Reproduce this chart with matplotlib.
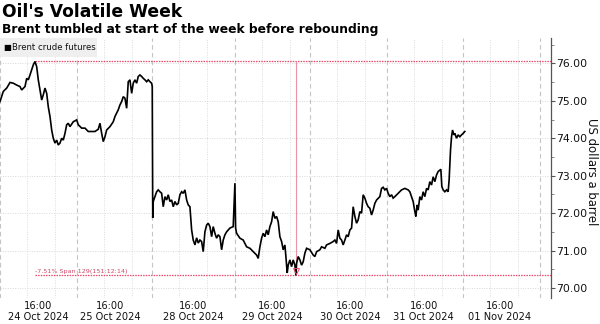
import matplotlib
matplotlib.use("Agg")
import matplotlib.pyplot as plt
import numpy as np

# Session position (compressed trading time; ~77 units per trading day) and Brent price
pos = [0, 3.3, 6.7, 10, 13.3, 16.7, 20, 21.7, 25, 26.7, 28.3, 30, 31.7, 33.3, 35, 36.7, 38.3, 40, 41.7, 43.3,
       45, 46.7, 48.3, 50, 51.7, 53.3, 55, 56.7, 58.3, 60, 61.7, 63.3, 65, 66.7, 68.3, 70, 73.3, 76.7, 78.3, 81.7,
       85, 88.3, 91.7, 95, 98.3, 100, 101.7, 103.3, 105, 106.7, 110, 113.3, 115, 116.7, 118.3, 120, 121.7, 123.3, 125, 126.7,
       128.3, 130, 131.7, 133.3, 135, 136.7, 138.3, 140, 141.7, 143.3, 145, 146.7, 148.3, 150, 151.7, 152.3, 152.8, 153.3, 156.7, 158.3,
       160, 161.7, 163.3, 165, 166.7, 168.3, 170, 171.7, 173.3, 175, 176.7, 178.3, 180, 181.7, 183.3, 185, 186.7, 188.3, 190, 191.7,
       193.3, 195, 196.7, 198.3, 200, 201.7, 203.3, 205, 206.7, 208.3, 210, 211.7, 213.3, 215, 216.7, 218.3, 220, 221.7, 223.3, 225,
       226.7, 230, 233.3, 235, 235.7, 236.7, 240, 243.3, 246.7, 250, 253.3, 256.7, 258.3, 260, 261.7, 263.3, 265, 266.7, 268.3, 270,
       271.7, 273.3, 275, 276.7, 278.3, 280, 281.7, 283.3, 285, 286, 287.3, 288.3, 290, 291.7, 293.3, 295, 296, 296.7, 298.3, 300,
       301.7, 303.3, 305, 306.7, 310, 313.3, 315, 316.7, 320, 321.7, 325, 326.7, 330, 333.3, 335, 336.7, 338.3, 340, 341.7, 343.3,
       345, 346.7, 348.3, 350, 351.7, 353.3, 355, 356.7, 358.3, 360, 361.7, 363.3, 365, 366.7, 368.3, 370, 371.7, 373.3, 375, 376.7,
       380, 381.7, 383.3, 385, 386.7, 388.3, 390, 391.7, 393.3, 395, 398.3, 401.7, 405, 408.3, 410, 411.7, 413.3, 415, 416, 417.3,
       418.3, 420, 421.7, 423.3, 425, 426.7, 428.3, 430, 431.7, 433.3, 435, 436.7, 438.3, 440, 441, 442, 443.3, 445, 446.7, 448.3,
       449.3, 450.7, 451.7, 452.7, 454, 455, 456.7, 458.3, 460, 461.7, 463.3, 465]
price = [74.98, 75.25, 75.34, 75.49, 75.47, 75.42, 75.38, 75.29, 75.38, 75.60, 75.56, 75.69, 75.83, 75.96, 76.05, 75.91, 75.56, 75.29, 75.02, 75.16,
         75.34, 75.20, 74.84, 74.58, 74.22, 74.00, 73.87, 73.95, 73.82, 73.87, 74.00, 73.95, 74.13, 74.36, 74.40, 74.31, 74.44, 74.49, 74.36, 74.27,
         74.27, 74.18, 74.18, 74.18, 74.24, 74.40, 74.13, 73.91, 74.04, 74.22, 74.31, 74.44, 74.58, 74.67, 74.76, 74.89, 74.98, 75.11, 75.07, 74.80,
         75.51, 75.56, 75.20, 75.47, 75.56, 75.47, 75.65, 75.69, 75.65, 75.60, 75.56, 75.51, 75.56, 75.51, 75.47, 75.38, 71.87, 72.31, 72.57, 72.62,
         72.57, 72.53, 72.17, 72.44, 72.35, 72.49, 72.31, 72.35, 72.17, 72.31, 72.22, 72.26, 72.49, 72.57, 72.53, 72.62, 72.35, 72.22, 72.17, 71.55,
         71.28, 71.15, 71.34, 71.20, 71.28, 71.24, 70.97, 71.50, 71.68, 71.73, 71.64, 71.37, 71.64, 71.46, 71.33, 71.42, 71.37, 71.02, 71.28, 71.42,
         71.50, 71.60, 71.64, 72.80, 71.60, 71.46, 71.33, 71.28, 71.10, 71.06, 70.97, 70.88, 70.79, 71.10, 71.33, 71.46, 71.37, 71.55, 71.42, 71.64,
         71.77, 72.04, 71.86, 71.91, 71.77, 71.37, 71.24, 71.02, 71.15, 70.84, 70.40, 70.61, 70.75, 70.57, 70.75, 70.61, 70.34, 70.66, 70.84, 70.75,
         70.61, 70.70, 70.93, 71.06, 71.02, 70.88, 70.84, 70.97, 71.02, 71.10, 71.06, 71.15, 71.19, 71.24, 71.28, 71.19, 71.55, 71.33, 71.28, 71.15,
         71.28, 71.42, 71.37, 71.55, 71.60, 72.17, 71.91, 71.73, 71.82, 72.04, 72.00, 72.49, 72.40, 72.26, 72.17, 72.13, 71.95, 72.08, 72.26, 72.35,
         72.44, 72.66, 72.69, 72.62, 72.66, 72.53, 72.44, 72.49, 72.40, 72.44, 72.53, 72.62, 72.66, 72.62, 72.57, 72.44, 72.31, 72.04, 71.91, 72.22,
         72.08, 72.44, 72.35, 72.57, 72.44, 72.66, 72.62, 72.84, 72.75, 72.97, 72.84, 73.02, 73.11, 73.15, 73.17, 72.71, 72.62, 72.57, 72.62, 72.57,
         72.89, 73.69, 74.04, 74.22, 74.09, 74.13, 74.00, 74.09, 74.04, 74.09, 74.13, 74.18]

day_starts = [0, 77, 152, 235, 310, 387, 463, 540]
tick_pos = [38, 110, 193, 272, 350, 424, 500]
tick_labels = ["16:00\n24 Oct 2024", "16:00\n25 Oct 2024", "16:00\n28 Oct 2024", "16:00\n29 Oct 2024",
               "16:00\n30 Oct 2024", "16:00\n31 Oct 2024", "16:00\n01 Nov 2024"]
y_ticks = [70, 71, 72, 73, 74, 75, 76]

title = "Oil's Volatile Week"
subtitle = "Brent tumbled at start of the week before rebounding"
legend_label = "Brent crude futures"
y_label = "US dollars a barrel"

pos = np.array(pos)
price = np.array(price)

fig = plt.figure(figsize=(6.0, 3.24), dpi=100)
ax = fig.add_axes([0.0, 0.080, 0.918, 0.803])

# grid
for v in y_ticks:
    ax.axhline(v, color="#d8d8d8", lw=0.7, ls=(0, (1, 1.5)), zorder=0)
for d in day_starts:
    ax.axvline(d, color="#c4c4c4", lw=0.8, ls=(0, (4, 3)), zorder=0)
    for off in (27, 55):
        if d + off < 551:
            ax.axvline(d + off, color="#dcdcdc", lw=0.7, ls=(0, (1, 1.5)), zorder=0)

ax.plot(pos, price, color="black", lw=1.2, zorder=3, solid_joinstyle="miter")

# span annotation
imax = int(np.argmax(price))
imin = int(np.argmin(price))
pmax, pmin = price[imax], price[imin]
red = "#e8486a"
ax.hlines([pmax, pmin], pos[imax], 551, color=red, lw=0.9, ls=(0, (1.2, 0.9)), zorder=2)
ax.vlines(pos[imin], pmin, pmax, color="#e993a5", lw=0.8, zorder=2)
ax.plot([pos[imin]], [pmin + 0.12], marker="v", ms=4.5, mfc="none", mec=red, mew=0.7, zorder=4)
chg = (pmin / pmax - 1) * 100
ax.text(pos[imax], pmin + 0.03, f"{chg:.2f}% Span 129(151:12:14)", color="#cc4a66", fontsize=4.6,
        ha="left", va="bottom", zorder=4)

# axes styling
for s in ["top", "left", "bottom"]:
    ax.spines[s].set_visible(False)
ax.spines["right"].set_color("#555555")
ax.spines["right"].set_linewidth(0.9)
ax.yaxis.tick_right()
ax.set_yticks(y_ticks)
ax.set_yticklabels([f"{v:.2f}" for v in y_ticks], fontsize=7.8, color="#111111")
ax.set_yticks(np.arange(69.5, 77, 0.5), minor=True)
ax.tick_params(axis="y", which="major", length=3, width=0.8, color="#555555", pad=1)
ax.tick_params(axis="y", which="minor", length=2, width=0.6, color="#777777")

ax.set_xticks(tick_pos)
ax.set_xticklabels(tick_labels, fontsize=7.1, color="#111111", linespacing=1.1)
ax.tick_params(axis="x", length=0, pad=2)

ax.set_xlim(0, 551)
ax.set_ylim(69.73, 76.68)

# y axis title on the right
fig.text(592 / 600, 1 - 172 / 324, y_label, rotation=270, fontsize=8.4, va="center", ha="center",
         color="#111111")

# legend box
fig.patches.append(plt.Rectangle((0.0, 1 - 57 / 324), 97 / 600, 19 / 324, transform=fig.transFigure,
                                 facecolor="#efefef", edgecolor="none", zorder=5))
fig.text(3 / 600, 1 - 47.5 / 324, "\u25a0", fontsize=6, va="center", ha="left", color="black", zorder=6)
fig.text(12 / 600, 1 - 47.5 / 324, legend_label, fontsize=6.1, va="center", ha="left", color="#111111", zorder=6)

fig.text(2 / 600, 1 - 12 / 324, title, fontsize=12.3, fontweight="bold", va="center", ha="left")
fig.text(2 / 600, 1 - 30 / 324, subtitle, fontsize=8.9, fontweight="bold", va="center", ha="left")

fig.savefig("out.png", dpi=100)
